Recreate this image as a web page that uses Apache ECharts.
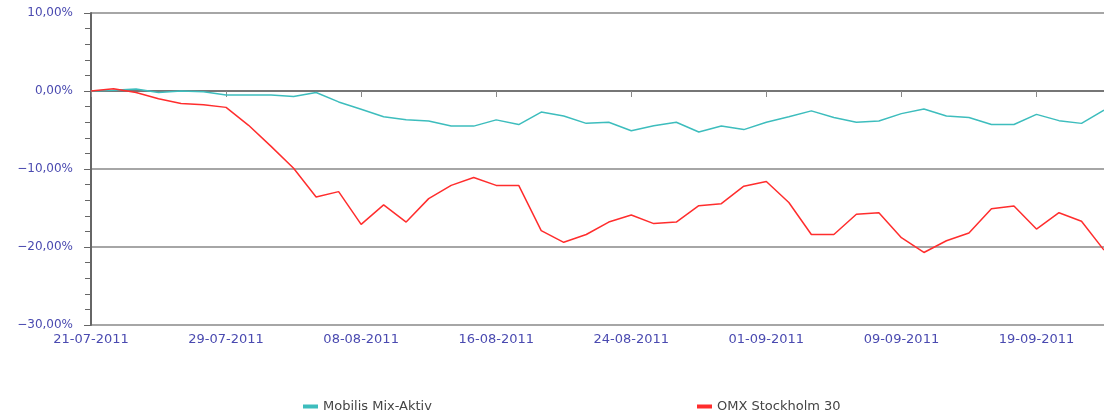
<!DOCTYPE html>
<html>
<head>
<meta charset="utf-8">
<script src="https://cdn.jsdelivr.net/npm/echarts@6/dist/echarts.min.js"></script>
<style>
    html, body { margin: 0; padding: 0; background: #fff; }
    #main { width: 1104px; height: 415px; }
</style>
</head>
<body>
<div id="main"></div>
<script>
// trading days
var dates = ['21-07-2011','22-07-2011','25-07-2011','26-07-2011','27-07-2011','28-07-2011','29-07-2011',
    '01-08-2011','02-08-2011','03-08-2011','04-08-2011','05-08-2011','08-08-2011','09-08-2011','10-08-2011',
    '11-08-2011','12-08-2011','15-08-2011','16-08-2011','17-08-2011','18-08-2011','19-08-2011','22-08-2011',
    '23-08-2011','24-08-2011','25-08-2011','26-08-2011','29-08-2011','30-08-2011','31-08-2011',
    '01-09-2011','02-09-2011','05-09-2011','06-09-2011','07-09-2011','08-09-2011','09-09-2011',
    '12-09-2011','13-09-2011','14-09-2011','15-09-2011','16-09-2011','19-09-2011','20-09-2011',
    '21-09-2011','22-09-2011'];

var mobilis = [0, 0.1, 0.25, -0.2, 0, -0.1, -0.5, -0.5, -0.5, -0.7, -0.2, -1.4, -2.35, -3.3, -3.7,
    -3.85, -4.5, -4.5, -3.7, -4.3, -2.7, -3.2, -4.15, -4.0, -5.1, -4.45, -4.0, -5.25, -4.5, -4.95,
    -4.0, -3.3, -2.55, -3.4, -4.0, -3.85, -2.9, -2.3, -3.2, -3.4, -4.3, -4.3, -3.0, -3.8, -4.15, -2.45];

var omx = [0, 0.3, -0.2, -1.0, -1.6, -1.75, -2.1, -4.4, -7.1, -9.9, -13.6, -12.9, -17.1, -14.6, -16.8,
    -13.8, -12.1, -11.1, -12.1, -12.1, -17.9, -19.4, -18.4, -16.8, -15.9, -17.0, -16.8, -14.7, -14.45, -12.2,
    -11.6, -14.3, -18.4, -18.4, -15.8, -15.6, -18.8, -20.7, -19.2, -18.2, -15.1, -14.75, -17.7, -15.6, -16.7, -20.4];

var names = ['Mobilis Mix-Aktiv', 'OMX Stockholm 30'];

var chart = echarts.init(document.getElementById('main'));
var font = 'DejaVu Sans';
var option = {
    animation: false,
    backgroundColor: '#fff',
    grid: { left: 91, right: -2, top: 13, bottom: 90, containLabel: false },
    legend: [
        {
            data: [names[0]], left: 303, top: 400, padding: 0, icon: 'rect',
            itemWidth: 15, itemHeight: 4, itemGap: 5,
            textStyle: { color: '#444', fontSize: 13, fontFamily: font }
        },
        {
            data: [names[1]], left: 697, top: 400, padding: 0, icon: 'rect',
            itemWidth: 15, itemHeight: 4, itemGap: 5,
            textStyle: { color: '#444', fontSize: 13, fontFamily: font }
        }
    ],
    xAxis: {
        type: 'category',
        data: dates,
        boundaryGap: false,
        axisLine: { lineStyle: { color: '#888', width: 1.5 } },
        axisTick: { interval: 5, length: 6, lineStyle: { color: '#888' } },
        axisLabel: { interval: 5, color: '#4a4ab0', fontSize: 13, fontFamily: font, margin: 8 },
        splitLine: { show: false }
    },
    yAxis: {
        type: 'value',
        min: -30,
        max: 10,
        interval: 10,
        axisLine: { show: true, lineStyle: { color: '#666', width: 2 } },
        axisTick: { show: true, length: 7, lineStyle: { color: '#666' } },
        minorTick: { show: true, splitNumber: 5, length: 6, lineStyle: { color: '#666' } },
        axisLabel: {
            color: '#4a4ab0', fontSize: 12, fontFamily: font, margin: 18,
            formatter: function (v) {
                var s = Math.abs(v).toFixed(2).replace('.', ',') + '%';
                return (v < 0 ? '\u2212' : '') + s;
            }
        },
        splitLine: { show: true, lineStyle: { color: ['#888', '#888', '#888', '#000', '#888'], width: 1.5 } }
    },
    series: [
        {
            name: names[0], type: 'line', data: mobilis, symbol: 'none',
            itemStyle: { color: '#3dbdbd' }, lineStyle: { width: 1.5, color: '#3dbdbd' }
        },
        {
            name: names[1], type: 'line', data: omx, symbol: 'none',
            itemStyle: { color: '#ff2d2d' }, lineStyle: { width: 1.5, color: '#ff2d2d' }
        }
    ]
};
chart.setOption(option);
</script>
</body>
</html>
